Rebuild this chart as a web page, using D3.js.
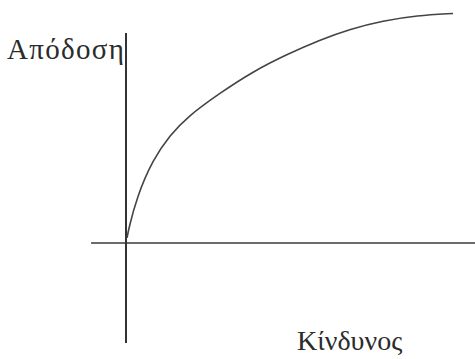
<!DOCTYPE html>
<html>
<head>
<meta charset="utf-8">
<script src="https://cdn.jsdelivr.net/npm/d3@7"></script>
<style>
  html, body { margin: 0; padding: 0; background: #fff; }
  svg { display: block; }
  .lbl { font-family: "Liberation Serif", "DejaVu Serif", serif; fill: #2b2b2b; }
</style>
</head>
<body>
<div id="chart"></div>
<script>
// Curve: risk (x) vs return (y), arbitrary units 0..100
const risk    = [0.3, 0.7, 3.1, 7.7, 12.6, 17.5, 26.9, 36.4, 46.1, 55.6, 64.2, 73.6, 83.4, 93.7];
const returns = [2.2, 5.7, 20.0, 36.3, 46.8, 54.8, 65.2, 74.6, 82.0, 88.3, 93.0, 96.6, 98.9, 99.8];

// Axis extents in data units
const xAxisExtent = [-10, 100];
const yAxisExtent = [-43.5, 91.3];

const yLabel = "Απόδοση";
const xLabel = "Κίνδυνος";

const W = 475, H = 359;

const svg = d3.select("#chart").append("svg")
  .attr("width", W).attr("height", H);

const x = d3.scaleLinear().domain([0, 100]).range([126, 475]);
const y = d3.scaleLinear().domain([0, 100]).range([243, 13]);

// Axes
svg.append("line")
  .attr("x1", x(xAxisExtent[0])).attr("x2", x(xAxisExtent[1]))
  .attr("y1", y(0)).attr("y2", y(0))
  .attr("stroke", "#3a3a3a").attr("stroke-width", 1.6);

svg.append("line")
  .attr("x1", x(0)).attr("x2", x(0))
  .attr("y1", y(yAxisExtent[1])).attr("y2", y(yAxisExtent[0]))
  .attr("stroke", "#333").attr("stroke-width", 2);

// Curve
const pts = risk.map((r, i) => [r, returns[i]]);
const line = d3.line()
  .x(d => x(d[0]))
  .y(d => y(d[1]))
  .curve(d3.curveBasis);

svg.append("path")
  .datum(pts)
  .attr("d", line)
  .attr("fill", "none")
  .attr("stroke", "#444")
  .attr("stroke-width", 1.6);

// Labels
svg.append("text").attr("class", "lbl")
  .attr("x", 7).attr("y", 59)
  .attr("font-size", 29)
  .attr("textLength", 117)
  .text(yLabel);

svg.append("text").attr("class", "lbl")
  .attr("x", 297).attr("y", 350)
  .attr("font-size", 28)
  .text(xLabel);
</script>
</body>
</html>
